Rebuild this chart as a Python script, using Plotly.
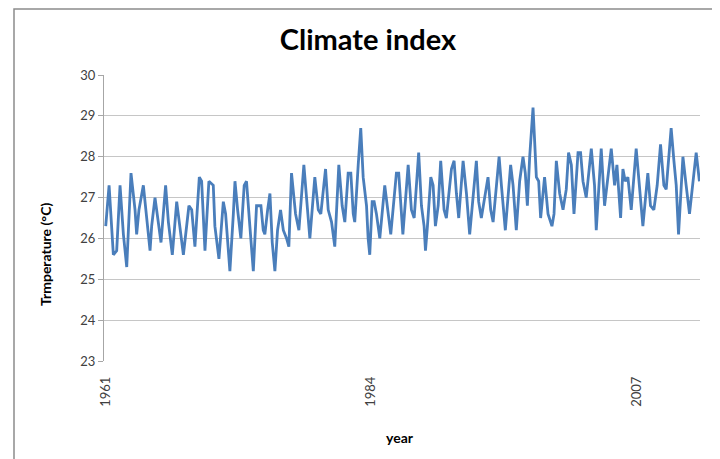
import plotly.graph_objects as go

# Time (decimal year) and temperature (°C)
years = [
    1961.0, 1961.29, 1961.66, 1961.95, 1962.24, 1962.53, 1962.82, 1963.19, 1963.54, 1963.68,
    1963.88, 1964.26, 1964.84, 1964.98, 1965.27, 1965.5, 1965.79, 1966.19, 1966.43, 1966.77,
    1967.15, 1967.73, 1968.21, 1968.45, 1968.73, 1969.11, 1969.31, 1969.6, 1969.94, 1970.32,
    1970.46, 1970.81, 1971.19, 1971.39, 1971.76, 1972.06, 1972.2, 1972.43, 1972.71, 1973.0,
    1973.2, 1973.49, 1973.79, 1974.07, 1974.45, 1974.65, 1974.79, 1975.03, 1975.23, 1975.43,
    1975.66, 1975.89, 1976.15, 1976.39, 1976.67, 1976.87, 1977.1, 1977.45, 1977.74, 1978.17,
    1978.69, 1979.12, 1979.42, 1979.64, 1979.85, 1980.05, 1980.28, 1980.57, 1980.85, 1981.2,
    1981.49, 1981.72, 1982.01, 1982.24, 1982.45, 1982.58, 1982.88, 1983.1, 1983.31, 1983.6,
    1983.74, 1983.88, 1984.09, 1984.26, 1984.46, 1984.75, 1985.18, 1985.42, 1985.7, 1986.19,
    1986.39, 1986.75, 1987.21, 1987.49, 1987.73, 1988.12, 1988.36, 1988.59, 1988.71, 1988.88,
    1989.17, 1989.37, 1989.57, 1989.81, 1990.03, 1990.32, 1990.52, 1990.96, 1991.19, 1991.39,
    1991.59, 1991.97, 1992.26, 1992.54, 1993.12, 1993.32, 1993.55, 1994.13, 1994.36, 1994.57,
    1995.09, 1995.29, 1995.63, 1996.09, 1996.3, 1996.58, 1996.87, 1997.16, 1997.36, 1997.54,
    1997.74, 1998.03, 1998.32, 1998.52, 1998.69, 1999.03, 1999.33, 1999.67, 1999.85, 2000.05,
    2000.34, 2000.63, 2000.91, 2001.11, 2001.35, 2001.58, 2001.93, 2002.15, 2002.36, 2002.64,
    2003.08, 2003.36, 2003.51, 2003.94, 2004.23, 2004.81, 2005.1, 2005.3, 2005.62, 2005.82,
    2006.02, 2006.25, 2006.54, 2006.97, 2007.26, 2007.55, 2007.98, 2008.21, 2008.5, 2008.79,
    2009.08, 2009.37, 2009.57, 2010.0, 2010.24, 2010.44, 2010.64, 2011.02, 2011.3, 2011.59,
    2012.17, 2012.45,
]
temps = [
    26.3, 27.3, 25.6, 25.7, 27.3, 26.1, 25.3, 27.6, 26.7, 26.1,
    26.7, 27.3, 25.7, 26.3, 27.0, 26.5, 25.9, 27.3, 26.4, 25.6,
    26.9, 25.6, 26.8, 26.7, 25.8, 27.5, 27.4, 25.7, 27.4, 27.3,
    26.3, 25.5, 26.9, 26.6, 25.2, 26.6, 27.4, 26.7, 26.0, 27.3,
    27.4, 26.3, 25.2, 26.8, 26.8, 26.2, 26.1, 26.7, 27.1, 25.9,
    25.2, 26.2, 26.7, 26.2, 26.0, 25.8, 27.6, 26.6, 26.2, 27.8,
    26.0, 27.5, 26.7, 26.6, 27.1, 27.7, 26.7, 26.4, 25.8, 27.8,
    26.8, 26.4, 27.6, 27.6, 26.6, 26.4, 27.8, 28.7, 27.5, 26.8,
    26.0, 25.6, 26.9, 26.9, 26.6, 26.0, 27.3, 26.7, 26.1, 27.6,
    27.6, 26.1, 27.8, 26.7, 26.5, 28.1, 26.8, 26.3, 25.7, 26.3,
    27.5, 27.3, 26.3, 26.8, 27.9, 26.7, 26.5, 27.7, 27.9, 27.1,
    26.5, 27.9, 27.1, 26.1, 27.9, 26.9, 26.5, 27.5, 26.7, 26.4,
    28.0, 27.3, 26.2, 27.8, 27.3, 26.2, 27.4, 28.0, 27.6, 26.8,
    28.0, 29.2, 27.5, 27.4, 26.5, 27.5, 26.6, 26.3, 26.6, 27.9,
    27.1, 26.7, 27.2, 28.1, 27.8, 26.6, 28.1, 28.1, 27.4, 27.0,
    28.2, 27.3, 26.2, 28.2, 26.8, 28.2, 27.3, 27.8, 26.5, 27.7,
    27.4, 27.5, 26.7, 28.2, 27.2, 26.3, 27.6, 26.8, 26.7, 27.3,
    28.3, 27.3, 27.2, 28.7, 27.9, 27.3, 26.1, 28.0, 27.3, 26.6,
    28.1, 27.4,
]
year_ticks = [1961, 1984, 2007]
y_ticks = [23, 24, 25, 26, 27, 28, 29, 30]

FONT = "Lato"
TXT = "#404040"

# the page body has an 8 px margin, so the figure is 712x451 and starts at (8, 8)
fig = go.Figure()
fig.add_trace(go.Scatter(
    x=years, y=temps, mode="lines",
    line=dict(color="#4a7ebb", width=2.8),
    showlegend=False, hoverinfo="x+y",
))

fig.update_layout(
    width=712, height=451,
    margin=dict(l=96, r=20, t=67, b=98),
    paper_bgcolor="white", plot_bgcolor="white",
    font=dict(family=FONT, color=TXT, size=12),
    title=dict(text="<b>Climate index</b>", x=0.5056, xref="container", xanchor="center",
               y=0.929, yref="container", yanchor="middle",
               font=dict(family=FONT, size=29, color="#000000")),
    xaxis=dict(
        range=[1960.85, 2012.5], tickmode="array", tickvals=year_ticks,
        ticktext=[str(v) for v in year_ticks], tickangle=-90,
        showgrid=False, zeroline=False, showline=False,
        ticks="", ticklabelstandoff=12,
        tickfont=dict(family=FONT, size=13, color=TXT),
    ),
    yaxis=dict(
        range=[23, 30], tickmode="array", tickvals=y_ticks,
        showgrid=True, gridcolor="#c6c6c6", gridwidth=1, zeroline=False,
        showline=True, linecolor="#a6a6a6", linewidth=1,
        ticks="outside", ticklen=5, tickcolor="#a6a6a6",
        tickfont=dict(family=FONT, size=13, color=TXT),
    ),
    annotations=[
        dict(text="<b>Trmperature (°C)</b>", xref="paper", yref="paper",
             x=(45 - 104) / 596, y=(361 - 255) / 286, textangle=-90, showarrow=False,
             font=dict(family=FONT, size=14, color="#000000"),
             xanchor="center", yanchor="middle"),
        dict(text="<b>year</b>", xref="paper", yref="paper",
             x=(400 - 104) / 596, y=(361 - 437) / 286, showarrow=False,
             font=dict(family=FONT, size=14, color="#000000"),
             xanchor="center", yanchor="middle"),
    ],
    shapes=[
        dict(type="rect", xref="paper", yref="paper",
             x0=(6 - 96) / 596, x1=(740 - 96) / 596,
             y0=(353 - 480) / 286, y1=(353 - 1) / 286,
             line=dict(color="#8c8c8c", width=1.5), fillcolor="rgba(0,0,0,0)", layer="below"),
    ],
)

fig.write_html("out.html")
